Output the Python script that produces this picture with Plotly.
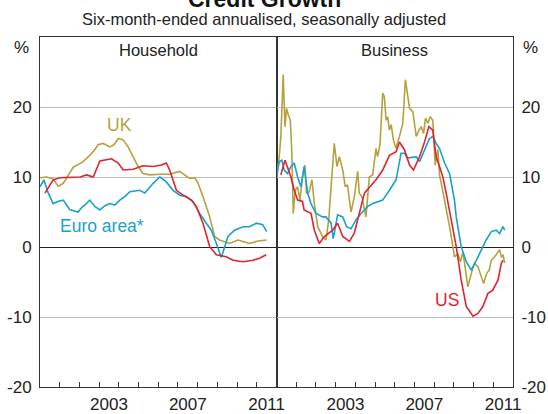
import plotly.graph_objects as go

# ---------------- data (decimal years, per cent) ----------------
uk_hh_x = [2000.0, 2000.34, 2000.67, 2000.93, 2001.18, 2001.45, 2001.69, 2001.95, 2002.19, 2002.53,
           2002.75, 2002.95, 2003.2, 2003.54, 2003.75, 2003.97, 2004.22, 2004.47, 2004.73, 2004.98,
           2005.23, 2005.57, 2006.08, 2006.58, 2007.09, 2007.34, 2007.59, 2007.85, 2008.02, 2008.27,
           2008.61, 2008.86, 2009.11, 2009.62, 2010.04, 2010.3, 2010.63, 2011.06, 2011.5]
uk_hh_y = [9.9, 10.0, 9.7, 8.7, 9.1, 10.4, 11.4, 11.8, 12.2, 13.1,
           13.8, 14.6, 14.8, 14.3, 14.6, 15.5, 15.3, 14.3, 12.9, 11.5,
           10.5, 10.3, 10.4, 10.4, 10.8, 10.3, 9.8, 9.9, 9.1, 7.2,
           4.3, 1.5, 1.0, 0.5, 1.0, 0.8, 0.5, 0.85, 1.0]

us_hh_x = [2000.25, 2000.67, 2001.01, 2001.52, 2002.03, 2002.36, 2002.7, 2003.04, 2003.63, 2003.97,
           2004.22, 2004.73, 2005.23, 2005.74, 2006.16, 2006.41, 2006.58, 2006.92, 2007.26, 2007.68,
           2007.93, 2008.27, 2008.61, 2008.95, 2009.45, 2009.79, 2010.3, 2010.8, 2011.14, 2011.48]
us_hh_y = [7.7, 9.6, 9.9, 9.9, 10.0, 10.3, 10.0, 12.3, 12.6, 12.0,
           11.0, 11.1, 11.6, 11.5, 11.7, 12.0, 11.0, 8.1, 7.4, 6.7,
           5.8, 3.4, 0.05, -1.1, -1.4, -1.9, -2.1, -1.9, -1.6, -1.1]

ea_hh_x = [2000.0, 2000.2, 2000.42, 2000.67, 2000.9, 2001.18, 2001.35, 2001.52, 2001.94, 2002.1,
           2002.28, 2002.53, 2002.78, 2003.04, 2003.3, 2003.54, 2003.8, 2004.05, 2004.3, 2004.56,
           2005.06, 2005.32, 2005.74, 2006.08, 2006.41, 2006.75, 2007.09, 2007.43, 2007.76, 2008.1,
           2008.44, 2008.69, 2008.95, 2009.2, 2009.37, 2009.54, 2009.87, 2010.3, 2010.63, 2010.97,
           2011.3, 2011.5]
ea_hh_y = [8.6, 9.6, 7.7, 6.2, 6.5, 6.7, 6.0, 5.3, 5.0, 5.6,
           6.0, 6.7, 5.8, 5.3, 5.9, 6.2, 6.0, 6.7, 7.2, 7.9,
           8.1, 7.7, 9.1, 10.0, 9.3, 8.1, 7.4, 7.2, 6.5, 4.8,
           3.4, 2.4, 0.5, -1.5, 0.05, 1.5, 2.4, 2.9, 2.9, 3.4,
           3.2, 2.2]

uk_bus_x = [2000.0, 2000.14, 2000.22, 2000.34, 2000.43, 2000.51, 2000.6, 2000.7, 2000.78, 2000.85,
            2000.95, 2001.07, 2001.19, 2001.32, 2001.44, 2001.52, 2001.66, 2001.8, 2001.92, 2002.09,
            2002.34, 2002.51, 2002.65, 2002.77, 2002.93, 2003.07, 2003.19, 2003.36, 2003.49, 2003.6,
            2003.78, 2003.95, 2004.12, 2004.2, 2004.33, 2004.54, 2004.71, 2004.88, 2005.05, 2005.13,
            2005.25, 2005.39, 2005.47, 2005.56, 2005.64, 2005.73, 2005.82, 2005.93, 2006.06, 2006.24,
            2006.41, 2006.54, 2006.66, 2006.75, 2006.92, 2007.09, 2007.23, 2007.34, 2007.46, 2007.56,
            2007.68, 2007.8, 2007.93, 2008.05, 2008.19, 2008.27, 2008.36, 2008.53, 2008.78, 2008.95,
            2009.03, 2009.2, 2009.34, 2009.46, 2009.63, 2009.71, 2009.88, 2010.05, 2010.22, 2010.39,
            2010.51, 2010.66, 2010.79, 2010.9, 2011.07, 2011.32, 2011.41, 2011.5, 2011.58]
uk_bus_y = [10.0, 12.9, 15.8, 24.6, 17.2, 19.8, 18.9, 18.1, 13.4, 4.8,
            8.1, 8.6, 6.7, 10.0, 11.7, 7.7, 7.9, 9.6, 6.2, 2.9,
            1.5, 1.0, 3.9, 8.1, 14.8, 11.5, 12.9, 11.0, 8.6, 8.9,
            5.0, 7.2, 10.8, 7.7, 7.2, 4.3, 10.0, 10.3, 14.1, 12.9,
            14.6, 22.0, 21.5, 18.1, 18.6, 16.7, 17.5, 15.3, 14.1, 15.8,
            17.7, 23.9, 21.7, 19.8, 19.3, 15.8, 16.7, 17.2, 16.2, 18.4,
            17.7, 18.6, 18.1, 11.7, 13.9, 10.3, 9.1, 6.7, 2.9, 0.05,
            -1.4, -1.0, -2.1, -0.7, -4.7, -5.7, -3.8, -2.3, -2.8, -4.3,
            -5.2, -3.8, -3.3, -1.9, -1.4, -0.4, -1.4, -1.2, -2.3]

us_bus_x = [2000.22, 2000.43, 2000.58, 2000.73, 2000.9, 2001.07, 2001.32, 2001.4, 2001.75, 2001.92,
            2002.17, 2002.43, 2002.85, 2003.1, 2003.36, 2003.7, 2003.95, 2004.2, 2004.46, 2004.71,
            2005.05, 2005.39, 2005.73, 2006.07, 2006.24, 2006.49, 2006.75, 2006.95, 2007.26, 2007.51,
            2007.73, 2007.93, 2008.1, 2008.27, 2008.44, 2008.61, 2008.87, 2009.12, 2009.37, 2009.63,
            2009.97, 2010.22, 2010.47, 2010.73, 2010.97, 2011.24, 2011.41, 2011.5]
us_bus_y = [10.3, 12.4, 11.2, 10.0, 8.1, 6.7, 6.5, 5.3, 4.8, 2.4,
            0.5, 1.5, 2.4, 3.4, 1.5, 0.8, 2.0, 4.8, 7.7, 8.5,
            9.6, 11.0, 13.1, 13.6, 15.0, 13.9, 11.7, 11.0, 12.9, 15.0,
            17.2, 16.7, 12.9, 11.5, 10.0, 7.7, 3.9, 0.05, -4.7, -8.5,
            -9.9, -9.5, -8.5, -6.6, -6.2, -4.7, -2.3, -1.9]

ea_bus_x = [2000.0, 2000.14, 2000.27, 2000.39, 2000.56, 2000.73, 2000.9, 2001.07, 2001.24, 2001.4,
            2001.58, 2001.75, 2002.0, 2002.34, 2002.51, 2002.77, 2002.88, 2003.1, 2003.36, 2003.56,
            2003.78, 2004.04, 2004.29, 2004.63, 2004.88, 2005.39, 2005.73, 2006.07, 2006.32, 2006.49,
            2006.66, 2007.09, 2007.26, 2007.6, 2007.76, 2007.93, 2008.1, 2008.27, 2008.53, 2008.78,
            2009.03, 2009.12, 2009.37, 2009.63, 2009.88, 2010.14, 2010.39, 2010.64, 2010.9, 2011.15,
            2011.32, 2011.49, 2011.58]
ea_bus_y = [10.0, 12.2, 12.4, 11.0, 10.5, 11.5, 12.0, 10.0, 8.6, 11.5,
            7.7, 6.2, 4.8, 4.3, 4.3, 3.4, 1.2, 4.6, 4.3, 2.9,
            2.6, 3.9, 4.8, 5.8, 6.2, 6.7, 8.1, 9.6, 13.4, 13.4,
            12.7, 12.9, 12.2, 14.3, 15.5, 15.8, 14.8, 14.1, 12.0, 10.5,
            6.7, 4.3, 0.05, -2.1, -3.3, -1.9, -0.4, 1.0, 2.2, 2.4,
            1.9, 2.9, 2.4]

year_ticks = list(range(2001, 2012))
label_pos = [2003.5, 2007.5, 2011.5]
label_text = ["2003", "2007", "2011"]
y_ticks = [-20, -10, 0, 10, 20]
y_text = ["-20", "-10", "0", "10", "20"]

# ---------------- styles ----------------
C_UK = "#B4A23E"
C_US = "#E2232E"
C_EA = "#17A2CB"
FONT = "Liberation Sans, Arial, sans-serif"
TXT = "#222222"
FS = 16.5
TFS = 17
LW = 1.6

fig = go.Figure()
for xs, ys, c, xa, ya in [
    (uk_hh_x, uk_hh_y, C_UK, "x", "y"),
    (ea_hh_x, ea_hh_y, C_EA, "x", "y"),
    (us_hh_x, us_hh_y, C_US, "x", "y"),
    (uk_bus_x, uk_bus_y, C_UK, "x2", "y2"),
    (ea_bus_x, ea_bus_y, C_EA, "x2", "y2"),
    (us_bus_x, us_bus_y, C_US, "x2", "y2"),
]:
    fig.add_trace(go.Scatter(x=xs, y=ys, mode="lines", line=dict(color=c, width=LW),
                             xaxis=xa, yaxis=ya, showlegend=False, hoverinfo="skip"))

AX_LINE = "#333333"
xcommon = dict(range=[2000, 2012], showgrid=False, zeroline=False, showline=True, mirror=True,
               linecolor=AX_LINE, linewidth=1, tickmode="array", tickvals=label_pos,
               ticktext=label_text, ticks="", ticklabelstandoff=2,
               tickfont=dict(family=FONT, size=TFS, color=TXT),
               minor=dict(tickmode="array", tickvals=year_ticks, ticks="inside", ticklen=5,
                          tickcolor=AX_LINE, tickwidth=1, showgrid=False),
               automargin=False, fixedrange=True)
ycommon = dict(range=[-20, 30], showgrid=True, gridcolor="#BDBDBD", gridwidth=1,
               zeroline=True, zerolinecolor="#222222", zerolinewidth=1,
               showline=True, mirror=True, linecolor=AX_LINE, linewidth=1,
               tickmode="array", tickvals=y_ticks, ticktext=y_text, ticks="",
               ticklabelstandoff=4,
               tickfont=dict(family=FONT, size=TFS, color=TXT),
               automargin=False, fixedrange=True)

fig.update_layout(
    width=548, height=414,
    margin=dict(l=40, r=35, t=37, b=27, autoexpand=False),
    paper_bgcolor="white", plot_bgcolor="white",
    font=dict(family=FONT, size=FS, color=TXT),
    xaxis=dict(domain=[0, 0.5], anchor="y", **xcommon),
    xaxis2=dict(domain=[0.5, 1], anchor="y2", **xcommon),
    yaxis=dict(anchor="x", side="left", **ycommon),
    yaxis2=dict(anchor="x2", side="right", **ycommon),
)


def pap_y(px):
    return (387 - px) / 350.0


def pap_x(px):
    return (px - 40) / 473.0


ann = [
    dict(text="<b>Credit Growth</b>", x=pap_x(264), y=pap_y(-1), xref="paper", yref="paper",
         font=dict(size=23, family=FONT, color="#111")),
    dict(text="Six-month-ended annualised, seasonally adjusted", x=pap_x(264), y=pap_y(19),
         xref="paper", yref="paper", font=dict(size=FS, family=FONT, color=TXT)),
    dict(text="%", x=pap_x(21), y=pap_y(47), xref="paper", yref="paper",
         font=dict(size=TFS, family=FONT, color=TXT)),
    dict(text="%", x=pap_x(530), y=pap_y(47), xref="paper", yref="paper",
         font=dict(size=TFS, family=FONT, color=TXT)),
    dict(text="Household", x=2006, y=28.1, xref="x", yref="y",
         font=dict(size=FS, family=FONT, color=TXT)),
    dict(text="Business", x=2006, y=28.1, xref="x2", yref="y2",
         font=dict(size=FS, family=FONT, color=TXT)),
    dict(text="UK", x=2004.05, y=17.4, xref="x", yref="y",
         font=dict(size=17.5, family=FONT, color=C_UK)),
    dict(text="Euro area*", x=2003.14, y=3.0, xref="x", yref="y",
         font=dict(size=17.5, family=FONT, color=C_EA)),
    dict(text="US", x=2008.63, y=-7.6, xref="x2", yref="y2",
         font=dict(size=17.5, family=FONT, color=C_US)),
]
for a in ann:
    a.update(showarrow=False, xanchor="center", yanchor="middle")
fig.update_layout(annotations=ann)

fig.write_html("out.html", config={"displayModeBar": False},
               post_script="document.body.style.margin='0';document.body.style.overflow='hidden';")
